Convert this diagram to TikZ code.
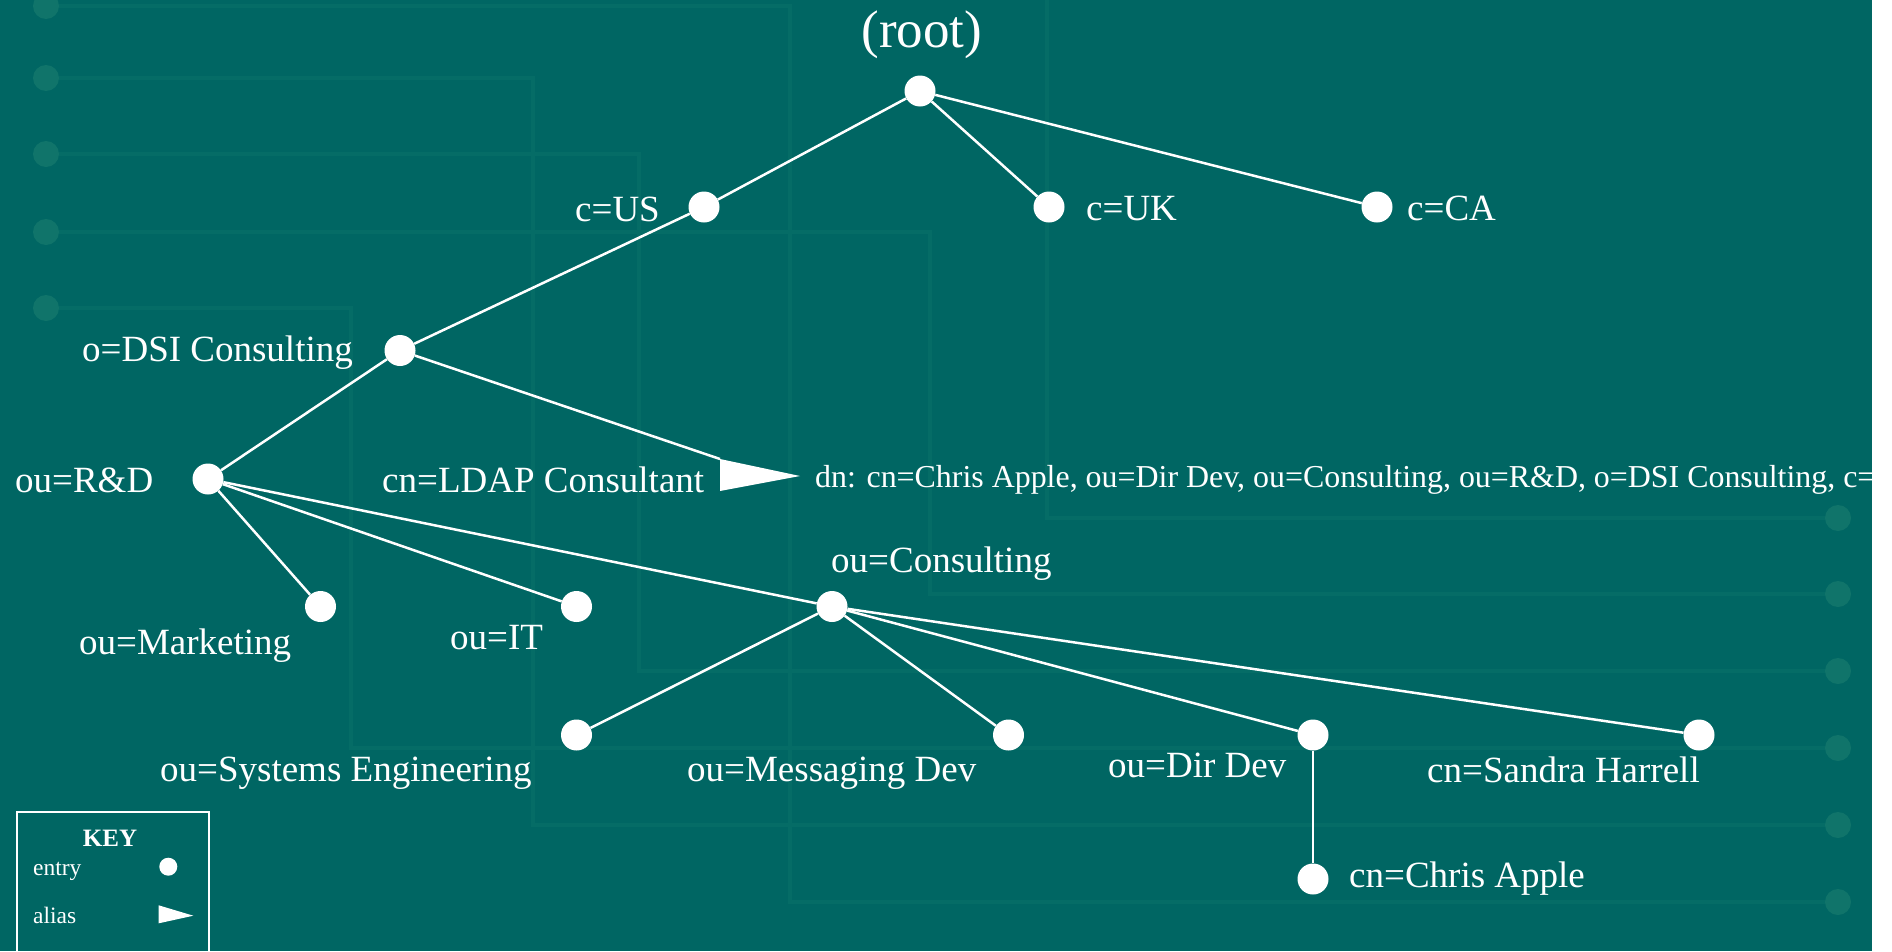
\documentclass[tikz,border=0pt]{standalone}
\usepackage{fontspec}
\setmainfont{Liberation Serif}
\definecolor{bgteal}{RGB}{0,102,99}
\definecolor{tracec}{RGB}{5,108,102}
\definecolor{blobc}{RGB}{16,116,106}
\newcommand{\lblfont}{\fontsize{37bp}{44bp}\selectfont}
\newcommand{\rootfont}{\fontsize{53bp}{60bp}\selectfont}
\newcommand{\dnfont}{\fontsize{31.9bp}{38bp}\selectfont}
\newcommand{\keytfont}{\fontsize{25bp}{30bp}\selectfont\bfseries}
\newcommand{\keyfont}{\fontsize{23.5bp}{28bp}\selectfont}
\begin{document}
\begin{tikzpicture}[x=1bp,y=-1bp,
  entry/.style={circle, fill=white, minimum size=31bp, inner sep=0pt},
  lbl/.style={text=white, inner sep=0pt, font=\lblfont, anchor=base west},
  edge/.style={draw=white, line width=2.5bp},
  trace/.style={draw=tracec, line width=4bp},
  blob/.style={fill=blobc}]
\useasboundingbox (0,0) rectangle (1892,951);
\fill[white] (0,0) rectangle (1892,951);
\fill[bgteal] (0,0) rectangle (1872,951);
\begin{scope}
\clip (0,0) rectangle (1872,951);
% faint background traces
\draw[trace] (46,6) -- (790,6) -- (790,902) -- (1838,902);
\draw[trace] (46,78) -- (533,78) -- (533,825) -- (1838,825);
\draw[trace] (46,154) -- (639,154) -- (639,671) -- (1838,671);
\draw[trace] (46,232) -- (930,232) -- (930,594) -- (1838,594);
\draw[trace] (46,308) -- (351,308) -- (351,748) -- (1838,748);
\draw[trace] (1047,0) -- (1047,518) -- (1838,518);
\foreach \yy in {6,78,154,232,308} \fill[blob] (46,\yy) circle (13);
\foreach \yy in {518,594,671,748,825,902} \fill[blob] (1838,\yy) circle (13);

% entries
\node[entry] (root) at (920,91) {};
\node[entry] (us) at (704,207) {};
\node[entry] (uk) at (1049,207) {};
\node[entry] (ca) at (1377,207) {};
\node[entry] (dsi) at (400,350.5) {};
\node[entry] (rd) at (208,479) {};
\node[entry] (mkt) at (320.5,606.5) {};
\node[entry] (it) at (576.5,606.5) {};
\node[entry] (cons) at (832,606.5) {};
\node[entry] (syseng) at (576.5,735) {};
\node[entry] (msg) at (1008.5,735) {};
\node[entry] (dirdev) at (1313,735) {};
\node[entry] (sandra) at (1699,735) {};
\node[entry] (chris) at (1313,879) {};

% alias
\coordinate (aliasNW) at (720,459);
\coordinate (aliasSW) at (720,491);
\coordinate (aliasTip) at (800,476);
\fill[white] (aliasNW) -- (aliasTip) -- (aliasSW) -- cycle;

% edges
\draw[edge] (root) -- (us);
\draw[edge] (root) -- (uk);
\draw[edge] (root) -- (ca);
\draw[edge] (us) -- (dsi);
\draw[edge] (dsi) -- (rd);
\draw[edge] (dsi) -- (aliasNW);
\draw[edge] (rd) -- (mkt);
\draw[edge] (rd) -- (it);
\draw[edge] (rd) -- (cons);
\draw[edge] (cons) -- (syseng);
\draw[edge] (cons) -- (msg);
\draw[edge] (cons) -- (dirdev);
\draw[edge] (cons) -- (sandra);
\draw[edge] (dirdev) -- (chris);

% labels
\node[text=white, inner sep=0pt, font=\rootfont, anchor=base] (rootl) at (922,47) {(root)};
\node[lbl] (usl) at (575,221) {c=US};
\node[lbl] (ukl) at (1086,220) {c=UK};
\node[lbl] (cal) at (1407,220) {c=CA};
\node[lbl] (dsil) at (82,361) {o=DSI Consulting};
\node[lbl] (rdl) at (15,492.5) {ou=R\&D};
\node[lbl] (ldapl) at (382,492.5) {cn=LDAP Consultant};
\node[lbl, font=\dnfont] (dnl) at (815,487.5) {dn: cn=Chris Apple, ou=Dir Dev, ou=Consulting, ou=R\&D, o=DSI Consulting, c=};
\node[lbl] (mktl) at (79,654) {ou=Marketing};
\node[lbl] (itl) at (450,649) {ou=IT};
\node[lbl] (consl) at (831,572) {ou=Consulting};
\node[lbl] (sysengl) at (160,781) {ou=Systems Engineering};
\node[lbl] (msgl) at (687,781) {ou=Messaging Dev};
\node[lbl] (dirdevl) at (1108,777) {ou=Dir Dev};
\node[lbl] (sandral) at (1427,782) {cn=Sandra Harrell};
\node[lbl] (chrisl) at (1349,887) {cn=Chris Apple};

% key
\node[draw=white, line width=2bp, minimum width=192.5bp, minimum height=170bp, anchor=north west, inner sep=0pt] (keybox) at (15.5,811) {};
\node[text=white, inner sep=0pt, font=\keytfont, anchor=base] (keyt) at (110,846.5) {KEY};
\node[text=white, inner sep=0pt, font=\keyfont, anchor=base west] (keyentry) at (33,875) {entry};
\node[text=white, inner sep=0pt, font=\keyfont, anchor=base west] (keyalias) at (33,923) {alias};
\node[circle, fill=white, minimum size=18bp, inner sep=0pt] (keydot) at (168.3,866.7) {};
\coordinate (keyNW) at (158.7,905.3);
\coordinate (keySW) at (158.7,923.3);
\coordinate (keyTip) at (193.3,915.7);
\fill[white] (keyNW) -- (keyTip) -- (keySW) -- cycle;
\end{scope}
\end{tikzpicture}
\end{document}
